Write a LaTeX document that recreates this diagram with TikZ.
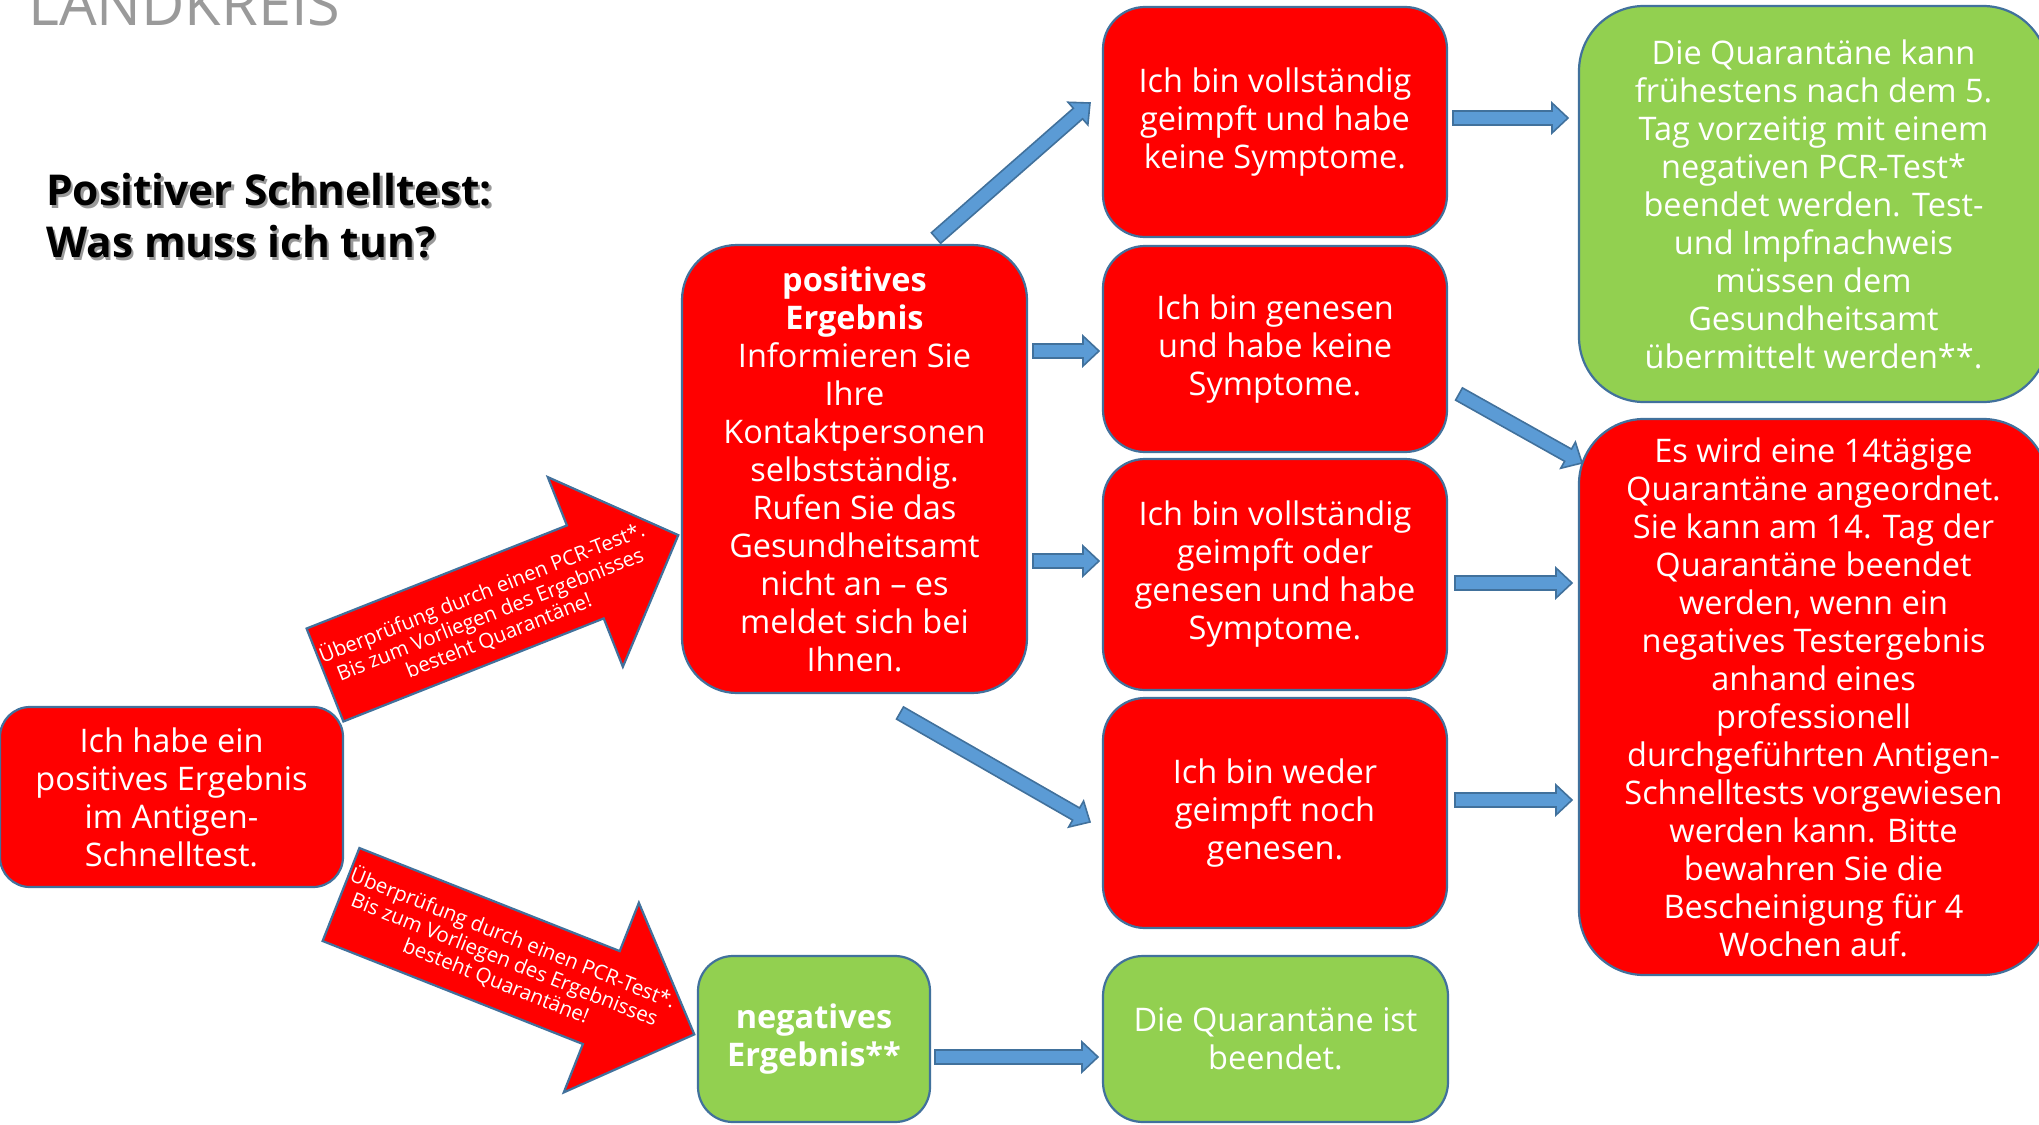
\documentclass[tikz,border=0pt]{standalone}
\usepackage{fontspec}
\setmainfont{Open Sans}
\usetikzlibrary{calc}
\definecolor{cred}{HTML}{FF0000}
\definecolor{cgreen}{HTML}{92D050}
\definecolor{cblue}{HTML}{5B9BD5}
\definecolor{cbord}{HTML}{41719C}
\definecolor{cgrey}{HTML}{9A9A9A}
\newcommand\blockarrow[2]{%
  \path let \p1=($(#2)-(#1)$), \n1={atan2(\y1,\x1)}, \n2={veclen(\x1,\y1)} in
    \pgfextra{\xdef\baang{\n1}\xdef\balen{\n2}};
  \draw[bluearrow, shift={(#1)}, rotate=\baang]
    (0,-7) -- ({\balen-16},-7) -- ({\balen-16},-15) -- (\balen,0)
    -- ({\balen-16},15) -- ({\balen-16},7) -- (0,7) -- cycle;
}
\begin{document}
\begin{tikzpicture}[x=1pt,y=-1pt,
  box/.style={rounded corners=#1, draw=cbord, line width=2.2pt, text=white,
    align=center, inner sep=0pt, font=\fontsize{32.5}{38}\selectfont},
  redbox/.style={box=#1, fill=cred},
  greenbox/.style={box=#1, fill=cgreen},
  bluearrow/.style={fill=cblue, draw=cbord, line width=1.6pt, line join=miter},
  redarrow/.style={fill=cred, draw=cbord, line width=2.2pt, line join=miter},
  arrowtext/.style={text=white, align=center, inner sep=0pt,
    font=\fontsize{20.5}{23}\selectfont},
]
\clip (0,0) rectangle (2039,1124);
\fill[white] (0,0) rectangle (2039,1124);

% header
\node[anchor=base west, inner sep=0pt, text=cgrey, font=\fontsize{59.5}{60}\selectfont] (brand) at (28,26) {LANDKREIS};
\node[anchor=west, inner sep=0pt, align=left, text=black!40, font=\bfseries\fontsize{42.5}{52}\selectfont] (titleshadow) at (48.5,218.5) {Positiver Schnelltest:\\Was muss ich tun?};
\node[anchor=west, inner sep=0pt, align=left, text=black, font=\bfseries\fontsize{42.5}{52}\selectfont] (title) at (46,216) {Positiver Schnelltest:\\Was muss ich tun?};

% boxes
\node[redbox=30, minimum width=343pt, minimum height=180pt] (start) at (171.5,797)
  {Ich habe ein\\positives Ergebnis\\im Antigen-\\Schnelltest.};
\node[redbox=55, minimum width=345pt, minimum height=448pt] (pos) at (854.5,469)
  {\textbf{positives}\\\textbf{Ergebnis}\\Informieren Sie\\Ihre\\Kontaktpersonen\\selbstständig.\\Rufen Sie das\\Gesundheitsamt\\nicht an – es\\meldet sich bei\\Ihnen.};
\node[greenbox=35, minimum width=232pt, minimum height=166pt] (neg) at (814,1039)
  {\textbf{negatives}\\\textbf{Ergebnis**}};
\node[redbox=42, minimum width=344pt, minimum height=230pt] (A) at (1275,122)
  {Ich bin vollständig\\geimpft und habe\\keine Symptome.};
\node[redbox=42, minimum width=344pt, minimum height=206pt] (B) at (1275,349)
  {Ich bin genesen\\und habe keine\\Symptome.};
\node[redbox=42, minimum width=344pt, minimum height=231pt] (C) at (1275,574.5)
  {Ich bin vollständig\\geimpft oder\\genesen und habe\\Symptome.};
\node[redbox=42, minimum width=344pt, minimum height=230pt] (D) at (1275,813)
  {Ich bin weder\\geimpft noch\\genesen.};
\node[greenbox=40, minimum width=345pt, minimum height=166pt] (E) at (1275.5,1039)
  {Die Quarantäne ist\\beendet.};
\node[greenbox=65, minimum width=469pt, minimum height=396pt] (G) at (1813.5,204)
  {Die Quarantäne kann\\frühestens nach dem 5.\\Tag vorzeitig mit einem\\negativen PCR-Test*\\beendet werden. Test-\\und Impfnachweis\\müssen dem\\Gesundheitsamt\\übermittelt werden**.};
\node[redbox=65, minimum width=469pt, minimum height=556pt] (R) at (1813.5,697)
  {Es wird eine 14tägige\\Quarantäne angeordnet.\\Sie kann am 14. Tag der\\Quarantäne beendet\\werden, wenn ein\\negatives Testergebnis\\anhand eines\\professionell\\durchgeführten Antigen-\\Schnelltests vorgewiesen\\werden kann. Bitte\\bewahren Sie die\\Bescheinigung für 4\\Wochen auf.};

% big red arrows
\begin{scope}[shift={(325,675)}, rotate=21.6]
  \draw[redarrow] (0,-50) -- (280,-50) -- (280,-102) -- (380,0) -- (280,102) -- (280,50) -- (0,50) -- cycle;
  \node[arrowtext, rotate=21.6] (uptext) at (176,4)
    {Überprüfung durch einen PCR-Test*.\\Bis zum Vorliegen des Ergebnisses\\besteht Quarantäne!};
\end{scope}
\begin{scope}[shift={(341,894.5)}, rotate=-21.6]
  \draw[redarrow] (0,-50) -- (280,-50) -- (280,-102) -- (380,0) -- (280,102) -- (280,50) -- (0,50) -- cycle;
  \node[arrowtext, rotate=-21.6] (downtext) at (176,0)
    {Überprüfung durch einen PCR-Test*.\\Bis zum Vorliegen des Ergebnisses\\besteht Quarantäne!};
\end{scope}

% blue arrows
\coordinate (a1s) at (936,238);  \coordinate (a1t) at (1090,103);
\coordinate (a2s) at (1033,351); \coordinate (a2t) at (1099,351);
\coordinate (a3s) at (1033,561); \coordinate (a3t) at (1099,561);
\coordinate (a4s) at (900,713);  \coordinate (a4t) at (1090,822);
\coordinate (a5s) at (1453,118); \coordinate (a5t) at (1568,118);
\coordinate (a6s) at (1459,394); \coordinate (a6t) at (1582,463);
\coordinate (a7s) at (1455,583); \coordinate (a7t) at (1572,583);
\coordinate (a8s) at (1455,800); \coordinate (a8t) at (1572,800);
\coordinate (a9s) at (935,1057); \coordinate (a9t) at (1098,1057);
\blockarrow{a1s}{a1t}
\blockarrow{a2s}{a2t}
\blockarrow{a3s}{a3t}
\blockarrow{a4s}{a4t}
\blockarrow{a5s}{a5t}
\blockarrow{a6s}{a6t}
\blockarrow{a7s}{a7t}
\blockarrow{a8s}{a8t}
\blockarrow{a9s}{a9t}
\end{tikzpicture}
\end{document}
